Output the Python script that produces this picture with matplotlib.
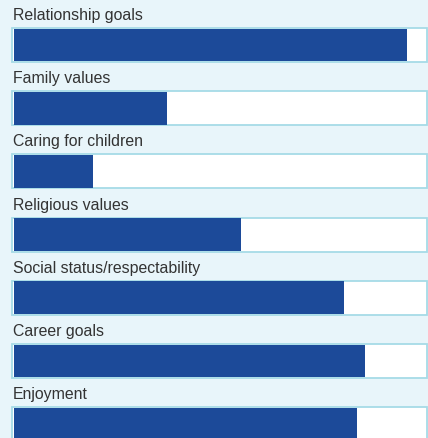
import matplotlib
matplotlib.use("Agg")
import matplotlib.pyplot as plt

categories = ["Relationship goals", "Family values", "Caring for children",
              "Religious values", "Social status/respectability", "Career goals",
              "Enjoyment"]
values = [95.2, 37.0, 19.1, 55.0, 79.9, 85.0, 83.0]

BG = "#e8f5fa"
BAR = "#1c4a99"
EDGE = "#a6dbe7"

W, H, DPI = 428, 438, 100
fig = plt.figure(figsize=(W / DPI, H / DPI), dpi=DPI, facecolor=BG)
ax = fig.add_axes([0, 0, 1, 1], facecolor=BG)

x0 = 14.0
scale = 413.0 / 100
row0, step = 45.0, 63.2
ax.set_xlim(-x0 / scale, (W - x0) / scale)
ax.set_ylim((H - row0) / step, -row0 / step)

ys = list(range(len(categories)))
h = 34 / step
tl = -1.6 / scale
ax.barh(ys, [100 - tl] * len(ys), left=tl, height=h, color="white",
        edgecolor=EDGE, linewidth=1.3, zorder=1)
ax.barh(ys, values, left=0, height=h * 0.96, color=BAR, zorder=2)

for y, lab in zip(ys, categories):
    ax.text(-1 / scale, y - 25 / step, lab, ha="left", va="baseline",
            fontsize=11.4, color="#333333", family=["Liberation Sans", "DejaVu Sans"])

ax.axis("off")
fig.savefig("out.png", dpi=DPI, facecolor=BG)
